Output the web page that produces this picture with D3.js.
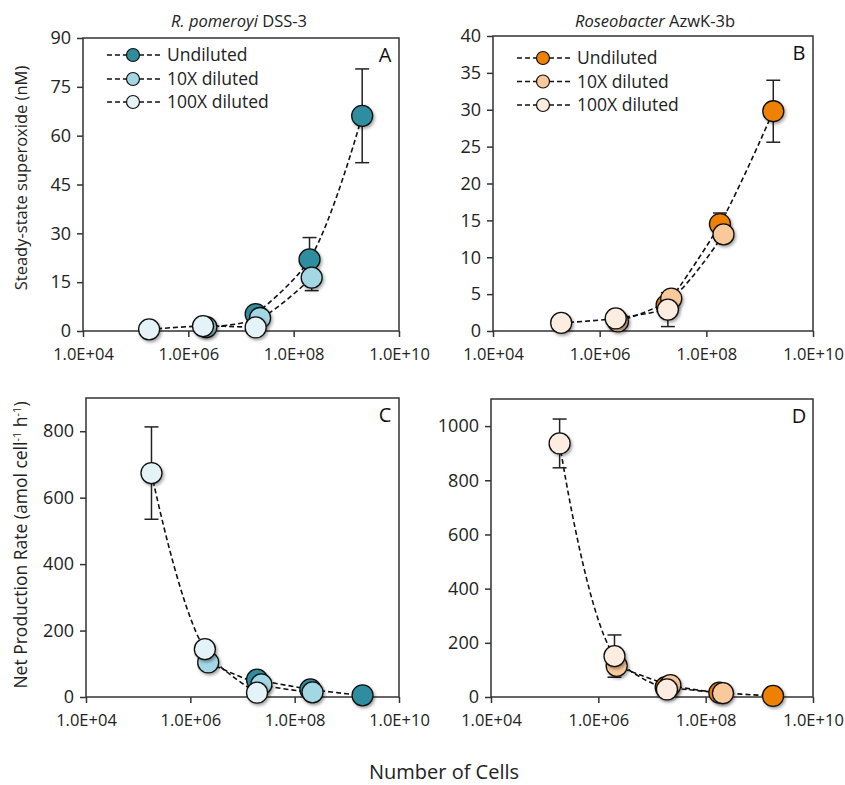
<!DOCTYPE html>
<html>
<head>
<meta charset="utf-8">
<script src="https://cdn.jsdelivr.net/npm/d3@7"></script>
<style>
  body { margin: 0; background: #fff; }
  svg { font-family: "Open Sans", "DejaVu Sans", sans-serif; }
</style>
</head>
<body>
<div id="chart"></div>
<script>
const width = 845;
const height = 785;

const seriesNames = ["Undiluted", "10X diluted", "100X diluted"];
const xTicks = [1e4, 1e6, 1e8, 1e10];

// R. pomeroyi DSS-3 (panels A, C)
const pomCellsUnd = [1.9e7, 2.0e8, 2.0e9];
const pomCells10 = [2.2e6, 2.3e7, 2.2e8];
const pomCells100 = [1.8e5, 1.9e6, 1.9e7];
const pomSsUnd = [5.2, 22.0, 66.1];
const pomSs10 = [1.2, 4.0, 16.4];
const pomSs100 = [0.5, 1.5, 1.1];
const pomSsUndErr = [0, 6.7, 14.4];
const pomSs10Err = [0, 0, 4.0];
const pomSs100Err = [0, 0, 0];
const pomRateUnd = [52, 23, 5];
const pomRate10 = [104, 38, 14];
const pomRate100 = [674, 144, 13];
const pomRateUndErr = [0, 0, 0];
const pomRate10Err = [0, 0, 0];
const pomRate100Err = [139, 0, 0];

// Roseobacter AzwK-3b (panels B, D)
const rosCellsUnd = [1.8e7, 1.8e8, 1.8e9];
const rosCells10 = [2.2e6, 2.2e7, 2.1e8];
const rosCells100 = [1.9e5, 2.0e6, 1.9e7];
const rosSsUnd = [3.5, 14.5, 29.8];
const rosSs10 = [1.3, 4.4, 13.1];
const rosSs100 = [1.1, 1.7, 2.9];
const rosSsUndErr = [0, 1.5, 4.2];
const rosSs10Err = [0, 0, 0];
const rosSs100Err = [0, 0, 2.3];
const rosRateUnd = [36, 16, 4];
const rosRate10 = [115, 44, 14];
const rosRate100 = [936, 151, 28];
const rosRateUndErr = [0, 0, 0];
const rosRate10Err = [0, 0, 0];
const rosRate100Err = [90, 78, 0];

const blues = ["#2f8d9e", "#a3d7e4", "#e4f3f7"];
const oranges = ["#ee8204", "#f9c89b", "#fdece0"];

function makeSeries(cells, vals, errs) {
  return cells.map((c, i) => ({ x: c, y: vals[i], e: errs[i] }));
}

const panels = [
  { letter: "A", left: 83, right: 399, top: 38, bottom: 331, yMax: 90, yStep: 15, colors: blues,
    legend: true,
    series: [makeSeries(pomCellsUnd, pomSsUnd, pomSsUndErr),
             makeSeries(pomCells10, pomSs10, pomSs10Err),
             makeSeries(pomCells100, pomSs100, pomSs100Err)] },
  { letter: "B", left: 493, right: 813, top: 36, bottom: 331, yMax: 40, yStep: 5, colors: oranges,
    legend: true,
    series: [makeSeries(rosCellsUnd, rosSsUnd, rosSsUndErr),
             makeSeries(rosCells10, rosSs10, rosSs10Err),
             makeSeries(rosCells100, rosSs100, rosSs100Err)] },
  { letter: "C", left: 86, right: 399, top: 398, bottom: 697, yMax: 900, yStep: 200, colors: blues,
    series: [makeSeries(pomCellsUnd, pomRateUnd, pomRateUndErr),
             makeSeries(pomCells10, pomRate10, pomRate10Err),
             makeSeries(pomCells100, pomRate100, pomRate100Err)] },
  { letter: "D", left: 491, right: 813, top: 399, bottom: 697, yMax: 1100, yStep: 200, colors: oranges,
    series: [makeSeries(rosCellsUnd, rosRateUnd, rosRateUndErr),
             makeSeries(rosCells10, rosRate10, rosRate10Err),
             makeSeries(rosCells100, rosRate100, rosRate100Err)] }
];

const svg = d3.select("#chart")
  .append("svg")
  .attr("width", width)
  .attr("height", height);

const defs = svg.append("defs");
defs.append("filter")
  .attr("id", "shadow")
  .attr("x", "-50%").attr("y", "-50%")
  .attr("width", "200%").attr("height", "200%")
  .append("feDropShadow")
  .attr("dx", 1.5).attr("dy", 2)
  .attr("stdDeviation", 1.4)
  .attr("flood-color", "#000")
  .attr("flood-opacity", 0.35);

const axisColor = "#333";
const fontFamily = '"Open Sans", "DejaVu Sans", sans-serif';
const expFormat = d => "1.0E+" + String(Math.round(Math.log10(d))).padStart(2, "0");

panels.forEach(p => {
  const x = d3.scaleLog().domain([1e4, 1e10]).range([p.left, p.right]);
  const y = d3.scaleLinear().domain([0, p.yMax]).range([p.bottom, p.top]);
  const g = svg.append("g");

  // frame
  g.append("rect")
    .attr("x", p.left).attr("y", p.top)
    .attr("width", p.right - p.left).attr("height", p.bottom - p.top)
    .attr("fill", "none").attr("stroke", axisColor).attr("stroke-width", 1.5);

  const xAxis = d3.axisBottom(x).tickValues(xTicks).tickFormat(expFormat).tickSize(6).tickPadding(11);
  g.append("g")
    .attr("class", "x-axis")
    .attr("transform", `translate(0, ${p.bottom})`)
    .call(xAxis)
    .call(s => s.select(".domain").remove());

  const yTicks = d3.range(0, p.yMax + 0.001, p.yStep);
  const yAxis = d3.axisLeft(y).tickValues(yTicks).tickFormat(d3.format("d")).tickSize(6).tickPadding(6);
  g.append("g")
    .attr("class", "y-axis")
    .attr("transform", `translate(${p.left}, 0)`)
    .call(yAxis)
    .call(s => s.select(".domain").remove());

  g.selectAll(".tick line").attr("stroke", axisColor).attr("stroke-width", 1.5);
  g.selectAll(".tick text")
    .attr("fill", "#222")
    .style("font-family", fontFamily);
  g.selectAll(".x-axis .tick text").style("font-size", "16.5px");
  g.selectAll(".y-axis .tick text").style("font-size", "18px");

  // lines
  const line = d3.line()
    .x(d => x(d.x))
    .y(d => y(d.y))
    .curve(d3.curveCatmullRom.alpha(0.5));

  p.series.forEach(s => {
    g.append("path")
      .datum(s)
      .attr("fill", "none")
      .attr("stroke", "#111")
      .attr("stroke-width", 1.6)
      .attr("stroke-dasharray", "5,3")
      .attr("d", line);
  });

  // error bars
  p.series.forEach(s => {
    s.filter(d => d.e > 0).forEach(d => {
      const cx = x(d.x);
      const eb = g.append("g").attr("stroke", "#222").attr("stroke-width", 1.5);
      eb.append("line").attr("x1", cx).attr("x2", cx).attr("y1", y(d.y + d.e)).attr("y2", y(d.y - d.e));
      [d.y + d.e, d.y - d.e].forEach(v => {
        eb.append("line").attr("x1", cx - 7).attr("x2", cx + 7).attr("y1", y(v)).attr("y2", y(v));
      });
    });
  });

  // markers
  p.series.forEach((s, i) => {
    g.selectAll(null)
      .data(s)
      .enter()
      .append("circle")
      .attr("cx", d => x(d.x))
      .attr("cy", d => y(d.y))
      .attr("r", 10.5)
      .attr("fill", p.colors[i])
      .attr("stroke", "#111")
      .attr("stroke-width", 1.3)
      .attr("filter", "url(#shadow)");
  });

  // panel letter
  g.append("text")
    .attr("x", p.right - 14)
    .attr("y", p.top + 24)
    .attr("text-anchor", "middle")
    .style("font-size", "20px")
    .attr("fill", "#111")
    .text(p.letter);

  // legend
  if (p.legend) {
    const lx = p.left + 24;
    const rowY = p.letter === "A" ? [55, 79, 102] : [58, 81.5, 105];
    seriesNames.forEach((name, i) => {
      const lg = g.append("g").attr("transform", `translate(${lx}, ${rowY[i]})`);
      lg.append("line")
        .attr("x1", 0).attr("x2", 53)
        .attr("stroke", "#111").attr("stroke-width", 1.6)
        .attr("stroke-dasharray", "5,3");
      lg.append("circle")
        .attr("cx", 26).attr("r", 6.5)
        .attr("fill", p.colors[i]).attr("stroke", "#111").attr("stroke-width", 1.2);
      lg.append("text")
        .attr("x", 60).attr("dy", "0.35em")
        .style("font-size", "17.5px")
        .attr("fill", "#222")
        .text(name);
    });
  }
});

// titles
const t1 = svg.append("text").attr("x", 239).attr("y", 27).attr("text-anchor", "middle")
  .style("font-size", "16.5px").attr("fill", "#222");
t1.append("tspan").style("font-style", "italic").text("R. pomeroyi");
t1.append("tspan").text(" DSS-3");

const t2 = svg.append("text").attr("x", 655).attr("y", 27).attr("text-anchor", "middle")
  .style("font-size", "16.5px").attr("fill", "#222");
t2.append("tspan").style("font-style", "italic").text("Roseobacter");
t2.append("tspan").text(" AzwK-3b");

// y labels
svg.append("text")
  .attr("transform", "translate(27, 178) rotate(-90)")
  .attr("text-anchor", "middle")
  .style("font-size", "16.5px").attr("fill", "#222")
  .text("Steady-state superoxide (nM)");

const yl = svg.append("text")
  .attr("transform", "translate(27, 545) rotate(-90)")
  .attr("text-anchor", "middle")
  .style("font-size", "17.5px").attr("fill", "#222");
yl.append("tspan").text("Net Production Rate (amol cell");
yl.append("tspan").attr("dy", -6).style("font-size", "11px").text("-1");
yl.append("tspan").attr("dy", 6).text(" h");
yl.append("tspan").attr("dy", -6).style("font-size", "11px").text("-1");
yl.append("tspan").attr("dy", 6).text(")");

// x label
svg.append("text")
  .attr("x", 444).attr("y", 779)
  .attr("text-anchor", "middle")
  .style("font-size", "20px").attr("fill", "#222")
  .text("Number of Cells");
</script>
</body>
</html>
